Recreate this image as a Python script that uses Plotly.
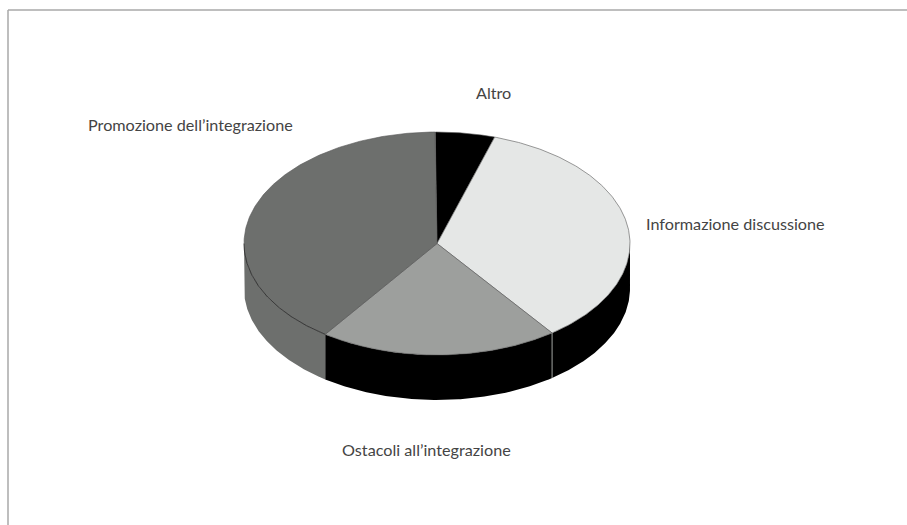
import numpy as np
import plotly.graph_objects as go

categories = ["Altro", "Informazione discussione", "Ostacoli all’integrazione", "Promozione dell’integrazione"]
values = [5, 35, 20, 40]
top_colors = ["#000000", "#e5e7e6", "#9d9f9d", "#6d6f6d"]
side_colors = ["#000000", "#000000", "#000000", "#6d6f6d"]
label_x = [476, 646, 342, 88]
label_y = [95, 226, 452, 127]

CX, CY, RX, RY, DEPTH = 437, 243.5, 193, 111.5, 45
START = -0.6


def rim(t, drop=0.0):
    r = np.radians(t)
    return CX + RX * np.sin(r), CY - RY * np.cos(r) + drop


fig = go.Figure()
edges = START + np.cumsum([0] + values) * 360.0 / sum(values)

# side wall: visible only on the front half of the rim
for i, v in enumerate(values):
    a0, a1 = max(edges[i], 90), min(edges[i + 1], 270)
    if a1 <= a0:
        continue
    t = np.linspace(a0, a1, 120)
    x0, y0 = rim(t)
    x1, y1 = rim(t[::-1], DEPTH)
    fig.add_trace(go.Scatter(x=np.r_[x0, x1, x0[0]], y=np.r_[y0, y1, y0[0]], mode="lines",
                             fill="toself", fillcolor=side_colors[i], line=dict(width=0),
                             hoverinfo="skip", showlegend=False))

# top face
for i, v in enumerate(values):
    t = np.linspace(edges[i], edges[i + 1], 200)
    x, y = rim(t)
    fig.add_trace(go.Scatter(x=np.r_[CX, x, CX], y=np.r_[CY, y, CY], mode="lines",
                             fill="toself", fillcolor=top_colors[i], line=dict(width=0.6, color="#555555"),
                             name=categories[i], hoverinfo="name", showlegend=False))

# thin rule where the first two walls meet
t = edges[2]
x0, y0 = rim(t)
x1, y1 = rim(t, DEPTH)
fig.add_trace(go.Scatter(x=[x0, x1], y=[y0, y1], mode="lines", line=dict(width=1, color="#9d9f9d"),
                         hoverinfo="skip", showlegend=False))

# rim of the dark slice
t = np.linspace(edges[3], 270, 100)
x, y = rim(t)
fig.add_trace(go.Scatter(x=x, y=y, mode="lines", line=dict(width=0.7, color="#222222"),
                         hoverinfo="skip", showlegend=False))

fig.add_trace(go.Scatter(x=label_x, y=label_y, text=categories, mode="text", textposition="middle right",
                         textfont=dict(family="Lato", size=16.2, color="#444444"),
                         hoverinfo="skip", showlegend=False))

frame = dict(color="#a9a9a9", width=1.5)
fig.add_shape(type="line", xref="paper", yref="paper", x0=8 / 907, x1=1, y0=1 - 10 / 525, y1=1 - 10 / 525, line=frame)
fig.add_shape(type="line", xref="paper", yref="paper", x0=8 / 907, x1=8 / 907, y0=0, y1=1 - 10 / 525, line=frame)

fig.update_layout(width=907, height=525, margin=dict(l=0, r=0, t=0, b=0),
                  paper_bgcolor="white", plot_bgcolor="white",
                  xaxis=dict(range=[0, 907], visible=False, fixedrange=True),
                  yaxis=dict(range=[525, 0], visible=False, fixedrange=True))
fig.write_html("out.html", config=dict(displayModeBar=False),
               post_script="document.body.style.margin='0';document.documentElement.style.overflow='hidden';")
